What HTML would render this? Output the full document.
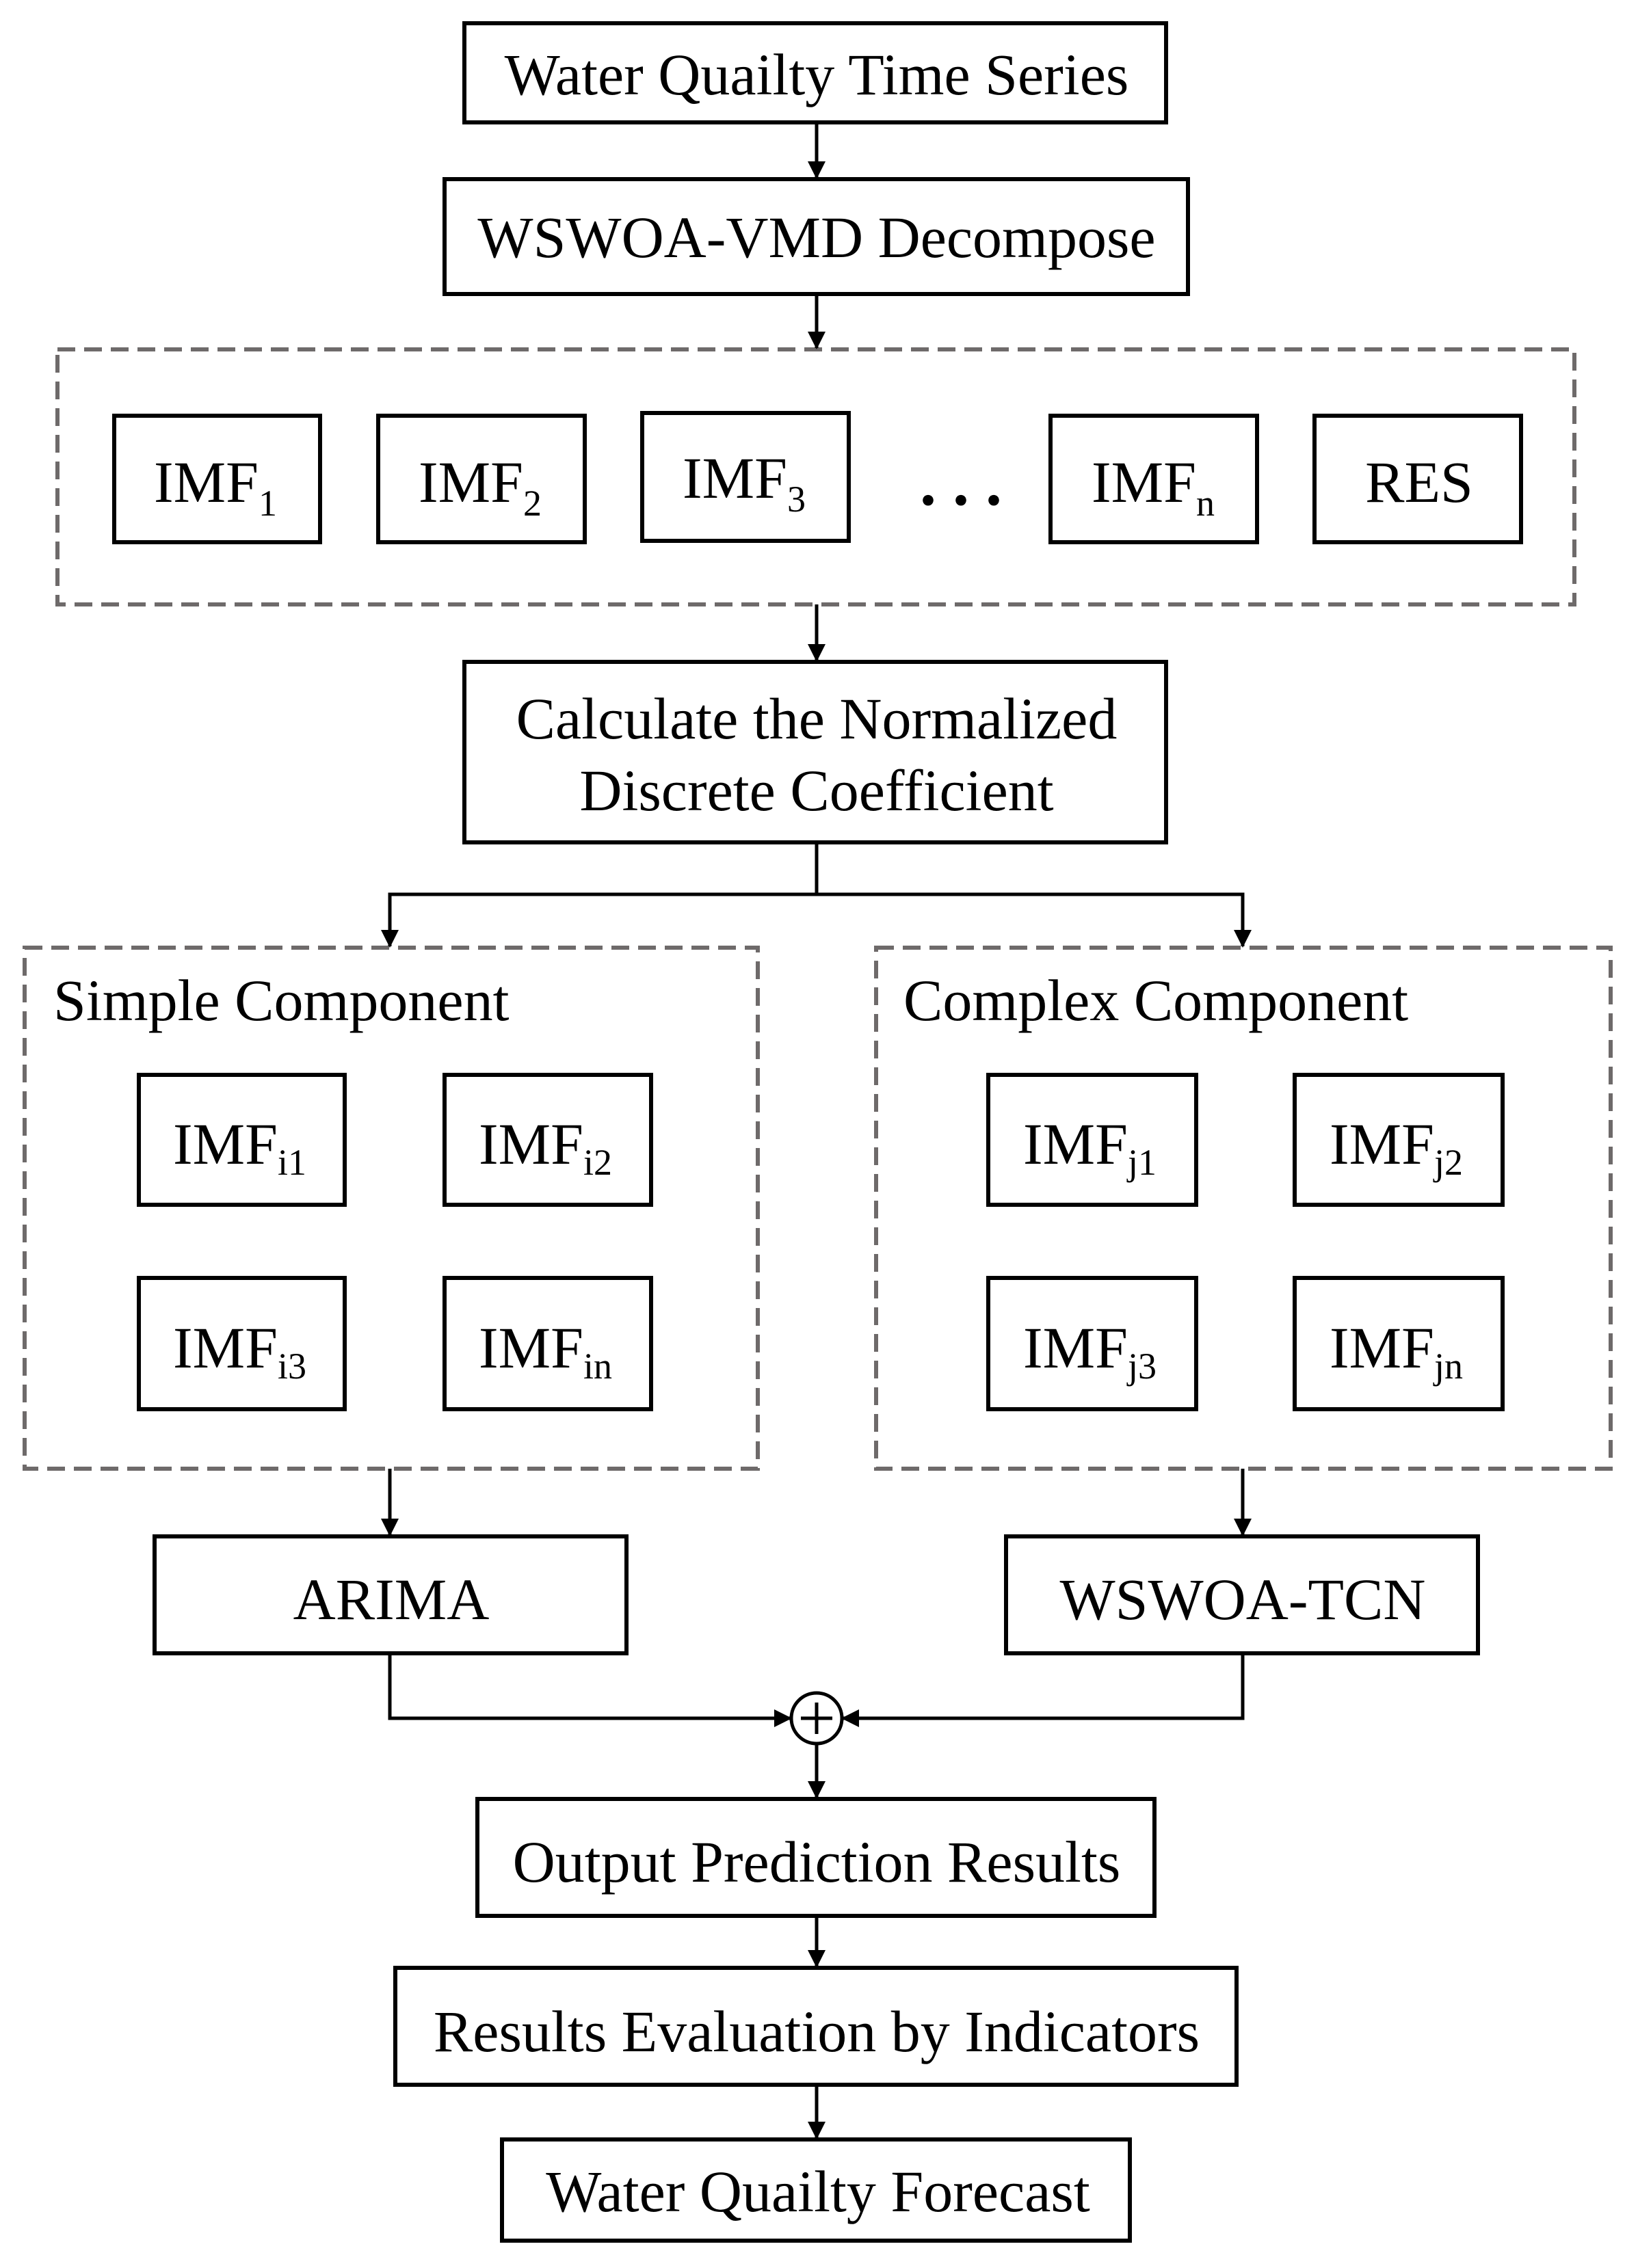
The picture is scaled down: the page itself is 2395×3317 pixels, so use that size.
<!DOCTYPE html>
<html><head><meta charset="utf-8"><style>
html,body{margin:0;padding:0;background:#fff}
svg{display:block}
text{font-family:"Liberation Serif",serif;fill:#000}
</style></head><body>
<svg width="2395" height="3317" viewBox="0 0 2395 3317" xmlns="http://www.w3.org/2000/svg">
<defs>
<marker id="ah" markerWidth="26" markerHeight="26" refX="24" refY="13" orient="auto" markerUnits="userSpaceOnUse"><path d="M0,0 L26,13 L0,26 z" fill="#000"/></marker></defs>
<g fill="none" stroke="#000" stroke-width="6">
<rect x="679" y="34" width="1026" height="145"/>
<rect x="650" y="262" width="1087" height="168"/>
<rect x="167" y="608" width="301" height="185"/>
<rect x="553" y="608" width="302" height="185"/>
<rect x="939" y="604" width="302" height="187"/>
<rect x="1536" y="608" width="302" height="185"/>
<rect x="1922" y="608" width="302" height="185"/>
<rect x="679" y="968" width="1026" height="264"/>
<rect x="203" y="1572" width="301" height="190"/>
<rect x="650" y="1572" width="302" height="190"/>
<rect x="203" y="1869" width="301" height="192"/>
<rect x="650" y="1869" width="302" height="192"/>
<rect x="1445" y="1572" width="304" height="190"/>
<rect x="1893" y="1572" width="304" height="190"/>
<rect x="1445" y="1869" width="304" height="192"/>
<rect x="1893" y="1869" width="304" height="192"/>
<rect x="226" y="2247" width="690" height="171"/>
<rect x="1471" y="2247" width="690" height="171"/>
<rect x="698" y="2631" width="990" height="171"/>
<rect x="578" y="2878" width="1230" height="171"/>
<rect x="734" y="3129" width="918" height="148"/>
</g>
<g fill="none" stroke="#6e6a6a" stroke-width="6" stroke-dasharray="26,13">
<rect x="84" y="511" width="2218" height="373"/>
<rect x="36" y="1386" width="1072" height="762"/>
<rect x="1281" y="1386" width="1074" height="762"/>
</g>
<g fill="none" stroke="#000" stroke-width="5">
<line x1="1194" y1="179" x2="1194" y2="260" marker-end="url(#ah)"/>
<line x1="1194" y1="430" x2="1194" y2="509" marker-end="url(#ah)"/>
<line x1="1194" y1="884" x2="1194" y2="966" marker-end="url(#ah)"/>
<polyline points="1194,1232 1194,1308"/>
<polyline points="570,1384 570,1308 1817,1308 1817,1384"/>
<line x1="570" y1="1308" x2="570" y2="1384" marker-end="url(#ah)"/>
<line x1="1817" y1="1308" x2="1817" y2="1384" marker-end="url(#ah)"/>
<line x1="570" y1="2148" x2="570" y2="2245" marker-end="url(#ah)"/>
<line x1="1817" y1="2148" x2="1817" y2="2245" marker-end="url(#ah)"/>
<polyline points="570,2418 570,2513 1156,2513" marker-end="url(#ah)"/>
<polyline points="1817,2418 1817,2513 1232,2513" marker-end="url(#ah)"/>
<circle cx="1194" cy="2513" r="37"/>
<line x1="1194" y1="2490" x2="1194" y2="2536"/>
<line x1="1171" y1="2513" x2="1217" y2="2513"/>
<line x1="1194" y1="2550" x2="1194" y2="2629" marker-end="url(#ah)"/>
<line x1="1194" y1="2802" x2="1194" y2="2876" marker-end="url(#ah)"/>
<line x1="1194" y1="3049" x2="1194" y2="3127" marker-end="url(#ah)"/>
</g>
<g font-size="86" text-anchor="middle">
<text x="1194" y="138">Water Quailty Time Series</text>
<text x="1194" y="376">WSWOA-VMD Decompose</text>
<text x="1194" y="1080">Calculate the Normalized</text>
<text x="1194" y="1185">Discrete Coefficient</text>
<text x="572" y="2368">ARIMA</text>
<text x="1817" y="2368">WSWOA-TCN</text>
<text x="1194" y="2752">Output Prediction Results</text>
<text x="1194" y="3000">Results Evaluation by Indicators</text>
<text x="1196" y="3234">Water Quailty Forecast</text>
<text x="2075" y="734">RES</text>
<text x="1405" y="738" font-size="96" font-weight="bold">. . .</text>
</g>
<g font-size="86">
<text x="78" y="1492">Simple Component</text>
<text x="1321" y="1492">Complex Component</text>
<text x="225" y="734">IMF<tspan font-size="54" dy="20">1</tspan></text>
<text x="612" y="734">IMF<tspan font-size="54" dy="20">2</tspan></text>
<text x="998" y="728">IMF<tspan font-size="54" dy="20">3</tspan></text>
<text x="1596" y="734">IMF<tspan font-size="54" dy="20">n</tspan></text>
<text x="253" y="1702">IMF<tspan font-size="54" dy="16">i1</tspan></text>
<text x="700" y="1702">IMF<tspan font-size="54" dy="16">i2</tspan></text>
<text x="253" y="2000">IMF<tspan font-size="54" dy="16">i3</tspan></text>
<text x="700" y="2000">IMF<tspan font-size="54" dy="16">in</tspan></text>
<text x="1496" y="1702">IMF<tspan font-size="54" dy="16">j1</tspan></text>
<text x="1944" y="1702">IMF<tspan font-size="54" dy="16">j2</tspan></text>
<text x="1496" y="2000">IMF<tspan font-size="54" dy="16">j3</tspan></text>
<text x="1944" y="2000">IMF<tspan font-size="54" dy="16">jn</tspan></text>
</g>
</svg>
</body></html>
